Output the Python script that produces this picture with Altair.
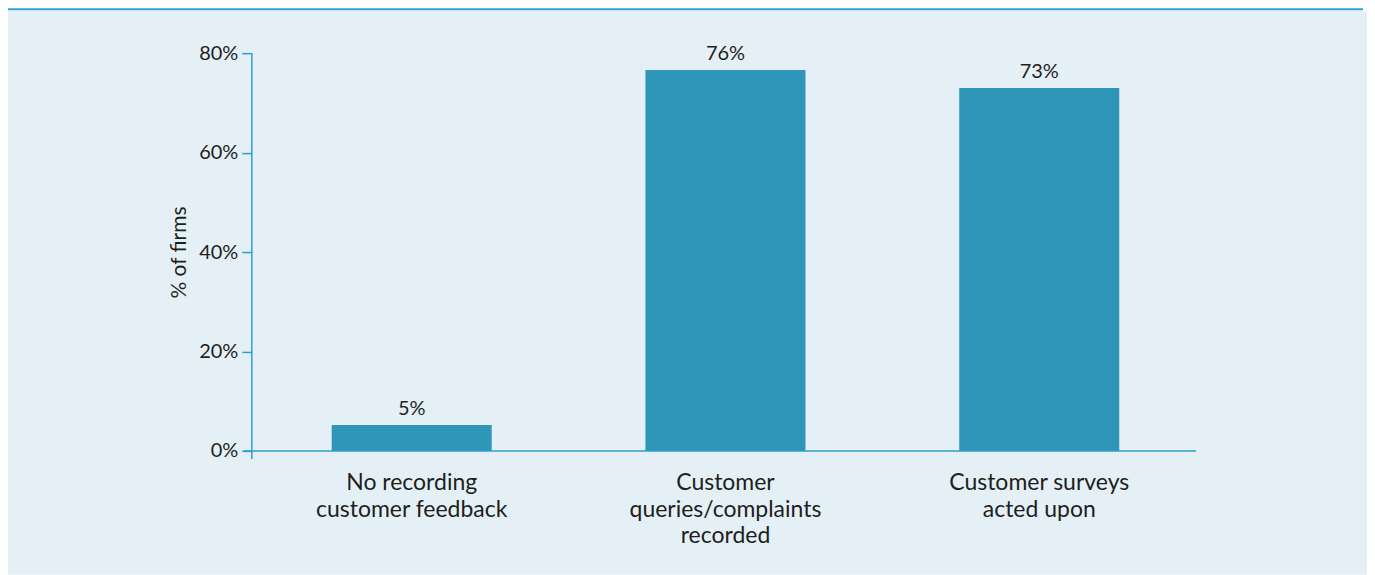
import altair as alt
import pandas as pd

categories = ["No recording|customer feedback",
              "Customer|queries/complaints|recorded",
              "Customer surveys|acted upon"]
values = [5.2, 76.6, 73.0]
value_labels = ["5%", "76%", "73%"]
y_ticks = [0, 20, 40, 60, 80]

FONT = "Lato"
TXT = "#1e1e1e"
BLUE = "#2e9fd1"
BAR = "#2e96b9"
PANEL = "#e4f0f5"

W, H = 942, 398
PAD_L, PAD_T, PAD_R, PAD_B = 247, 45, 171, 124

df = pd.DataFrame({"cat": categories, "val": values, "lab": value_labels})
one = pd.DataFrame({"a": [0]})

panel = alt.Chart(one).mark_rect(color=PANEL).encode(
    x=alt.value(-PAD_L), x2=alt.value(W + PAD_R),
    y=alt.value(-PAD_T + 2.5), y2=alt.value(H + PAD_B)
)
topline = alt.Chart(one).mark_rule(color=BLUE, strokeWidth=2).encode(
    x=alt.value(-PAD_L), x2=alt.value(1356 - PAD_L),
    y=alt.value(-PAD_T + 1)
)

xenc = alt.X("cat:N", sort=categories, title=None,
             scale=alt.Scale(paddingInner=0.49, paddingOuter=0.245),
             axis=alt.Axis(labelExpr="split(datum.label, '|')", domain=False, ticks=False,
                           labelAngle=0, labelFont=FONT, labelFontSize=23, labelColor=TXT,
                           labelLineHeight=26.5, labelPadding=21, labelBaseline="top",
                           labelLimit=400, zindex=2))
yenc = alt.Y("val:Q", scale=alt.Scale(domain=[0, 80]),
             axis=alt.Axis(values=y_ticks, labelExpr="datum.value + '%'", domain=False,
                           tickColor=BLUE, tickSize=10, tickWidth=1.5, offset=3, grid=False,
                           labelFont=FONT, labelFontSize=20, labelColor=TXT, labelPadding=4,
                           title="% of firms", titleFont=FONT, titleFontSize=21,
                           titleFontWeight="normal", titleColor=TXT, titlePadding=9,
                           zindex=2))

bars = alt.Chart(df).mark_bar(color=BAR).encode(x=xenc, y=yenc)
texts = alt.Chart(df).mark_text(font=FONT, fontSize=20, color=TXT, baseline="alphabetic",
                                dy=-10).encode(
    x=alt.X("cat:N", sort=categories), y="val:Q", text="lab:N")

yaxis_line = alt.Chart(one).mark_rule(color=BLUE, strokeWidth=1.5).encode(
    x=alt.value(-3), y=alt.value(0), y2=alt.value(H + 8))
xaxis_line = alt.Chart(one).mark_rule(color=BLUE, strokeWidth=1.5).encode(
    x=alt.value(-11), x2=alt.value(W), y=alt.value(H))

chart = alt.layer(panel, topline, bars, texts, yaxis_line, xaxis_line).properties(
    width=W, height=H,
    autosize=alt.AutoSizeParams(type="none"),
    padding={"left": PAD_L, "top": PAD_T, "right": PAD_R, "bottom": PAD_B},
    background="white",
).configure_view(stroke=None)

chart.save("out.html", embed_options={"renderer": "svg", "actions": False})
